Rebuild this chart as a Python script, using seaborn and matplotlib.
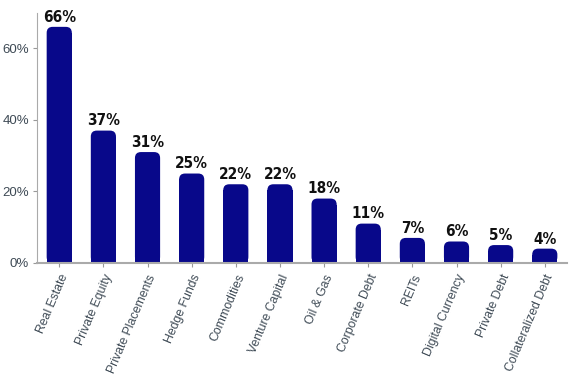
import matplotlib
matplotlib.use("Agg")
import matplotlib.pyplot as plt
import pandas as pd
import seaborn as sns
from matplotlib.patches import FancyBboxPatch
from matplotlib.ticker import PercentFormatter

categories = ["Real Estate", "Private Equity", "Private Placements", "Hedge Funds",
              "Commodities", "Venture Capital", "Oil & Gas", "Corporate Debt",
              "REITs", "Digital Currency", "Private Debt", "Collateralized Debt"]
shares = [66, 37, 31, 25, 22, 22, 18, 11, 7, 6, 5, 4]

df = pd.DataFrame({"category": categories, "share": shares})

sns.set_style("white")
plt.rcParams["font.family"] = ["Liberation Sans", "DejaVu Sans"]

bar_color = "#08088a"
fig = plt.figure(figsize=(5.72, 3.8), dpi=100)
ax = fig.add_axes([0.065, 0.308, 0.926, 0.659])

sns.barplot(data=df, x="category", y="share", color=bar_color, width=0.57,
            saturation=1, ax=ax)
ax.set_ylim(0, 70)
ax.set_xlim(-0.5, len(categories) - 0.5)

# rounded top corners: ~6px radius
ry = 6 / 3.6
rx = 6 / 44.2
for p in list(ax.patches):
    x, w, h = p.get_x(), p.get_width(), p.get_height()
    p.set_height(max(h - ry, 0))
    p.set_linewidth(0)
    box = FancyBboxPatch((x, 0), w, h,
                         boxstyle=f"round,pad=0,rounding_size={rx}",
                         mutation_aspect=ry / rx,
                         facecolor=bar_color, edgecolor="none")
    ax.add_patch(box)
    ax.text(x + w / 2, h + 0.6, f"{h:.0f}%", ha="center", va="bottom",
            fontsize=11, fontweight="bold", color="#111111",
            family=["DejaVu Sans"], fontstretch="condensed")

ax.yaxis.set_major_formatter(PercentFormatter(decimals=0))
ax.set_yticks([0, 20, 40, 60])
ax.set_xlabel("")
ax.set_ylabel("")
ax.set_xticks(range(len(categories)))
ax.set_xticklabels(categories, rotation=67, ha="right", rotation_mode="anchor")

ax.tick_params(axis="both", which="both", length=3, width=0.8, color="#999999",
               labelcolor="#3e4a55", left=True, bottom=True)
ax.tick_params(axis="x", pad=4, labelsize=8.8)
ax.tick_params(axis="y", labelsize=9.5, pad=3)
for side in ["top", "right"]:
    ax.spines[side].set_visible(False)
ax.spines["left"].set_color("#aaaaaa")
ax.spines["left"].set_linewidth(0.8)
ax.spines["bottom"].set_color("#aaaaaa")
ax.spines["bottom"].set_linewidth(1.5)

fig.savefig("out.png", dpi=100)
